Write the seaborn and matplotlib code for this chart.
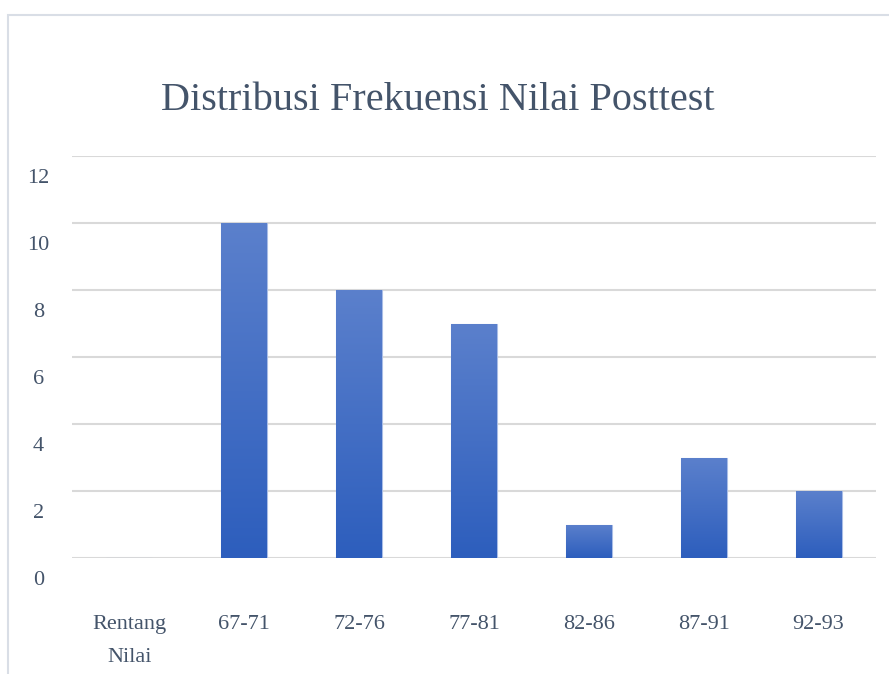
import numpy as np
import pandas as pd
import matplotlib
matplotlib.use("Agg")
import matplotlib.pyplot as plt
import matplotlib.transforms as mtransforms
from matplotlib.colors import LinearSegmentedColormap
from matplotlib.patches import Rectangle
import seaborn as sns

categories = ["Rentang\nNilai", "67-71", "72-76", "77-81", "82-86", "87-91", "92-93"]
frequencies = [0, 10, 8, 7, 1, 3, 2]
y_ticks = [0, 2, 4, 6, 8, 10, 12]
title = "Distribusi Frekuensi Nilai Posttest"

sns.set_theme(style="white")
plt.rcParams["font.family"] = ["Liberation Serif", "DejaVu Serif"]

text_color = "#44546A"
grid_color = "#D9D9D9"

fig = plt.figure(figsize=(8.89, 6.74), dpi=100)
ax = fig.add_axes([72 / 889, 116 / 674, 804 / 889, 402 / 674])

df = pd.DataFrame({"cat": categories, "freq": frequencies})
sns.barplot(data=df, x="cat", y="freq", color="#4472C4", width=0.4,
            edgecolor="#A9BDE6", linewidth=0.8, saturation=1, ax=ax, zorder=3)

cmap = LinearSegmentedColormap.from_list("g", ["#2D5EBD", "#5B80CC"])
grad = np.linspace(0, 1, 256).reshape(-1, 1)
for p in ax.patches:
    h = p.get_height()
    if h <= 0:
        continue
    x0 = p.get_x()
    w = p.get_width()
    im = ax.imshow(grad, extent=[x0, x0 + w, 0, h], origin="lower", cmap=cmap,
                   aspect="auto", zorder=3.5)
    im.set_clip_path(p)

ax.set_xlim(-0.5, len(categories) - 0.5)
ax.set_ylim(0, 12)
ax.set_xticks(range(len(categories)))
ax.set_xticklabels(categories, linespacing=2.0)
ax.set_yticks(y_ticks)
ax.set_yticklabels([str(t) for t in y_ticks])
ax.yaxis.grid(True, color=grid_color, linewidth=1.5, zorder=0)
ax.set_axisbelow(True)
for s in ax.spines.values():
    s.set_visible(False)
ax.set_xlabel("")
ax.set_ylabel("")
ax.tick_params(axis="y", length=0, pad=24, labelsize=16, labelcolor=text_color)
ax.tick_params(axis="x", length=0, pad=41, labelsize=16, labelcolor=text_color)
for lab in ax.get_yticklabels():
    lab.set_horizontalalignment("center")
    lab.set_transform(lab.get_transform() + mtransforms.ScaledTranslation(0.0, -0.2, fig.dpi_scale_trans))

fig.text(438 / 889, 1 - 100 / 674, title, ha="center", va="center",
         fontsize=29, color=text_color)

fig.patches.append(Rectangle((8 / 889, -0.1), 1.2, 1 - 15 / 674 + 0.1,
                             transform=fig.transFigure, fill=False,
                             edgecolor="#D9DEE6", linewidth=1.5))

fig.savefig("out.png", dpi=100)
